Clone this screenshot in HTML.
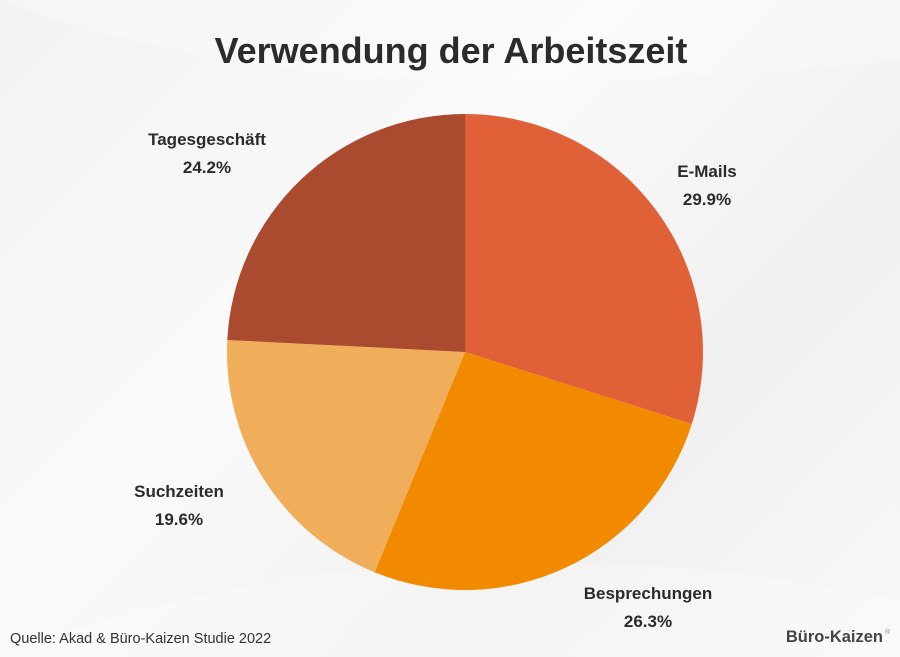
<!DOCTYPE html>
<html><head><meta charset="utf-8"><style>
html,body{margin:0;padding:0}
body{width:900px;height:657px;overflow:hidden;background:linear-gradient(135deg,#f2f2f2 0%,#fafafa 40%,#f0f0f0 70%,#f8f8f8 100%);font-family:"Liberation Sans",sans-serif}
</style></head><body>
<svg width="900" height="657" viewBox="0 0 900 657" xmlns="http://www.w3.org/2000/svg" style="position:absolute;left:0;top:0">
<path d="M0 0 Q300 120 900 60 L900 0 Z" fill="#ffffff" opacity="0.25"/>
<path d="M0 657 Q400 500 900 600 L900 657 Z" fill="#ffffff" opacity="0.25"/>
<text x="451" y="63" text-anchor="middle" font-size="36" font-weight="bold" fill="#2b2b2b">Verwendung der Arbeitszeit</text>
<g>
<path d="M465 352 L465 114 A238 238 0 0 1 691.8 424 Z" fill="#E06038"/>
<path d="M465 352 L691.8 424 A238 238 0 0 1 374.6 572.2 Z" fill="#F28A00"/>
<path d="M465 352 L374.6 572.2 A238 238 0 0 1 227.3 340 Z" fill="#F0AE5A"/>
<path d="M465 352 L227.3 340 A238 238 0 0 1 465 114 Z" fill="#AA4A2E"/>
</g>
<g font-size="17" font-weight="bold" fill="#2b2b2b" text-anchor="middle">
<text x="707" y="177">E-Mails</text><text x="707" y="205">29.9%</text>
<text x="648" y="599">Besprechungen</text><text x="648" y="627">26.3%</text>
<text x="179" y="497">Suchzeiten</text><text x="179" y="525">19.6%</text>
<text x="207" y="145">Tagesgeschäft</text><text x="207" y="173">24.2%</text>
</g>
<text x="10" y="643" font-size="14.5" fill="#333">Quelle: Akad &amp; Büro-Kaizen Studie 2022</text>
<text x="883" y="642" font-size="16.5" font-weight="bold" fill="#444" text-anchor="end">Büro-Kaizen</text>
<text x="885" y="634" font-size="7" fill="#888">®</text>
</svg>
</body></html>
